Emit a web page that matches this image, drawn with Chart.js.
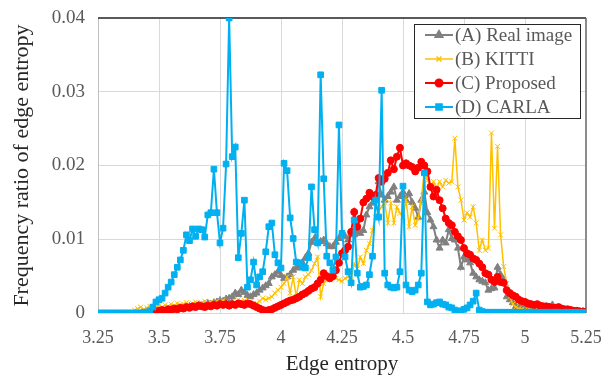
<!DOCTYPE html>
<html>
<head>
<meta charset="utf-8">
<script src="https://cdn.jsdelivr.net/npm/chart.js@4.4.1/dist/chart.umd.min.js"></script>
<style>
  html, body { margin: 0; padding: 0; background: #fff; }
  #wrap { width: 601px; height: 379px; }
</style>
</head>
<body>
<div id="wrap"><canvas id="entropyChart" width="601" height="379"></canvas></div>
<script>
// histogram bins: 3.25 .. 5.25, one bin every 0.0125
const binStart = 3.25;
const binStep = 0.0125;

const seriesNames = ['(A) Real image', '(B) KITTI', '(C) Proposed', '(D) CARLA'];

const realImage = [
  null,null,null,null,null,null,null,null,
  null,null,null,null,null,null,null,null,
  null,null,null,null,null,null,0.0003,0.0004,
  0.0005,0.0004,0.0006,0.0007,0.0006,0.0008,0.0009,0.0008,
  0.001,0.0011,0.001,0.0012,0.0013,0.0012,0.0014,0.0015,
  0.0017,0.0016,0.0019,0.002,0.0022,0.0027,0.0025,0.0031,
  0.0028,0.0024,0.0022,0.0025,0.0027,0.0031,0.0034,0.0037,
  0.004,0.0049,0.0052,0.0056,0.0051,0.0047,0.0049,0.0052,
  0.0058,0.0061,0.0064,0.0068,0.0075,0.0081,0.0096,0.0101,
  0.0095,0.0097,0.0099,0.0094,0.009,0.009,0.0096,0.0101,
  0.0108,0.0104,0.0099,0.0108,0.0106,0.011,0.0108,0.0112,
  0.0133,0.0144,0.0149,0.0155,0.0178,0.016,0.0153,0.0158,
  0.0164,0.0171,0.0153,0.0158,0.0164,0.0153,0.0162,0.015,
  0.0142,0.013,0.0153,0.0164,0.0136,0.0126,0.0117,0.0099,
  0.0088,0.0099,0.0095,0.0113,0.0101,0.0099,0.0088,0.0062,
  0.0076,0.0072,0.0068,0.0054,0.0049,0.0045,0.0043,0.0041,
  0.0031,0.0033,0.0034,0.0062,0.0052,0.0045,0.0022,0.0018,
  0.0014,0.0009,0.0008,0.0007,0.0007,0.0006,0.0006,0.0005,
  0.0005,0.0004,0.0005,0.0006,0.0008,0.0011,0.0006,0.0004,
  0.0004,0.0003,0.0003,0.0003,0.0002,0.0002,0.0002,0.0002,
  0.0001
];

const kitti = [
  null,null,null,null,null,null,null,null,
  null,null,null,null,0.0004,0.0006,0.0008,0.0005,
  0.0007,0.0009,0.0006,0.0008,0.001,0.0008,0.0011,0.0009,
  0.0012,0.001,0.0013,0.0011,0.0012,0.0014,0.0011,0.0013,
  0.0015,0.0012,0.0014,0.0016,0.0013,0.0015,0.0012,0.0016,
  0.0014,0.0017,0.0015,0.0013,0.0016,0.0014,0.0018,0.0015,
  0.0017,0.0014,0.0016,0.0013,0.0013,0.0016,0.002,0.0018,
  0.002,0.0022,0.0027,0.0031,0.0035,0.004,0.0049,0.0027,
  0.0049,0.0022,0.0045,0.004,0.0049,0.0052,0.0058,0.0067,
  0.0076,0.0022,0.004,0.0045,0.0045,0.0049,0.0047,0.0045,
  0.0043,0.0047,0.0049,0.0045,0.0067,0.006,0.0076,0.0067,
  0.0085,0.0094,0.0112,0.013,0.0138,0.0144,0.015,0.0122,
  0.0149,0.0122,0.0144,0.0135,0.013,0.0153,0.0117,0.0144,
  0.0119,0.0128,0.0153,0.0194,0.018,0.0171,0.0178,0.017,
  0.0178,0.0171,0.018,0.0176,0.0178,0.0237,0.0171,0.0153,
  0.0126,0.0136,0.013,0.0144,0.0122,0.0085,0.0099,0.0085,
  0.0088,0.0244,0.0115,0.0226,0.0106,0.0063,0.004,0.0022,
  0.0012,0.0008,0.0006,0.0005,0.0004,0.0004,0.0003,0.0003,
  0.0002,0.0002,0.0002,0.0001,0.0001,0.0001,0.0001
];

const proposed = [
  null,null,null,null,null,null,null,null,
  null,null,null,null,null,null,null,null,
  null,null,null,0.0002,0.0003,0.0004,0.0003,0.0005,
  0.0004,0.0006,0.0005,0.0007,0.0006,0.0008,0.0007,0.0009,
  0.0008,0.001,0.0009,0.0008,0.001,0.0009,0.0011,0.001,
  0.0012,0.0011,0.0012,0.001,0.0012,0.0011,0.0013,0.0012,
  0.0011,0.0013,0.0012,0.001,0.0008,0.0006,0.0004,0.0003,
  0.0004,0.0005,0.0007,0.0009,0.0011,0.0013,0.0015,0.0017,
  0.0018,0.002,0.0022,0.0025,0.0027,0.003,0.0033,0.0035,
  0.004,0.0045,0.0054,0.005,0.0047,0.005,0.0058,0.0068,
  0.0081,0.0085,0.009,0.011,0.0137,0.0117,0.0128,0.015,
  0.0155,0.0163,0.0158,0.016,0.0183,0.0178,0.0182,0.019,
  0.0207,0.0195,0.0212,0.0224,0.02,0.0203,0.02,0.0198,
  0.0192,0.0197,0.0205,0.02,0.0192,0.0171,0.0158,0.0167,
  0.0153,0.0142,0.0128,0.0122,0.0119,0.011,0.0104,0.0099,
  0.0088,0.0081,0.0079,0.0074,0.0072,0.0067,0.0062,0.0054,
  0.0052,0.0045,0.0042,0.0049,0.0042,0.0041,0.0031,0.0027,
  0.0024,0.0022,0.0018,0.0016,0.0015,0.0013,0.0012,0.0011,
  0.0012,0.001,0.0009,0.0009,0.0008,0.0007,0.0007,0.0008,
  0.0006,0.0005,0.0005,0.0004,0.0003,0.0003,0.0002,0.0002,
  0.0002
];

const carla = [
  0,0,0,0,0,0,0,0,
  0,0,0,0,0,0,0,0.0001,
  0.0001,0.0003,0.0008,0.0015,0.0018,0.002,0.0027,0.0035,
  0.0042,0.0052,0.0062,0.0072,0.0085,0.0106,0.0098,0.0114,
  0.0104,0.0114,0.0113,0.0103,0.0133,0.0136,0.0195,0.0136,
  0.0095,0.0115,0.0202,0.040,0.0212,0.0225,0.0075,0.0108,
  0.0153,0.0035,0.0045,0.0069,0.0038,0.0049,0.0056,0.0083,
  0.0117,0.0122,0.0079,0.0068,0.0061,0.0203,0.0193,0.0129,
  0.0101,0.0069,0.0068,0.0062,0.0061,0.0075,0.0171,0.0113,
  0.0095,0.0323,0.0182,0.0077,0.0068,0.0058,0.0076,0.0255,
  0.0108,0.0076,0.0056,0.0041,0.0126,0.0054,0.0035,0.0036,
  0.0038,0.0052,0.0077,0.0153,0.013,0.0302,0.0054,0.0038,
  0.0035,0.0034,0.0035,0.0056,0.0172,0.0038,0.0031,0.0029,
  0.0031,0.0038,0.0054,0.019,0.0015,0.0011,0.0012,0.0014,
  0.0015,0.0012,0.0011,0.0008,0.0007,0.0004,0.0002,0.0003,
  0.0005,0.0007,0.0011,0.0016,0.0027,0.0004,0.0002,0.0001,
  0.0001,0.0001,0.0001,0.0001,0.0001,0.0001,0.0001,0.0001,
  0.0001,0.0001,0,0.0001,0.0001,0,0.0001,0.0001,
  0.0001,0,0.0001,0.0001,0,0.0001,0.0001,0.0001,
  0,0.0001,0.0001,0,0.0001,0.0001,0,0.0001,
  0
];

function toPoints(vals) {
  return vals.map((v, i) => ({ x: binStart + i * binStep, y: v }));
}

const serif = '"Liberation Serif", "Times New Roman", serif';

// legend sits inside the plot, top right, like the original figure
const boxedLegend = {
  id: 'boxedLegend',
  afterDraw(chart) {
    const ctx = chart.ctx;
    const area = chart.chartArea;
    const w = 166, h = 94;
    const x = area.right - 172, y = area.top + 6;
    ctx.save();
    ctx.fillStyle = '#fff';
    ctx.fillRect(x, y, w, h);
    ctx.strokeStyle = '#262626';
    ctx.lineWidth = 1;
    ctx.strokeRect(x + 0.5, y + 0.5, w, h);
    chart.data.datasets.forEach((ds, i) => {
      const cy = y + 11 + i * 24;
      ctx.strokeStyle = ds.borderColor;
      ctx.fillStyle = ds.borderColor;
      ctx.lineWidth = ds.borderWidth;
      ctx.beginPath();
      ctx.moveTo(x + 11, cy);
      ctx.lineTo(x + 39, cy);
      ctx.stroke();
      Chart.helpers.drawPoint(ctx, {
        pointStyle: ds.pointStyle,
        radius: ds.pointRadius,
        borderWidth: ds.pointBorderWidth,
        rotation: 0
      }, x + 25, cy);
      ctx.fillStyle = '#595959';
      ctx.font = '19px ' + serif;
      ctx.textBaseline = 'middle';
      ctx.fillText(seriesNames[i], x + 41, cy + 1);
    });
    ctx.restore();
  }
};

const plotFrame = {
  id: 'plotFrame',
  beforeDatasetsDraw(chart) {
    const ctx = chart.ctx;
    const a = chart.chartArea;
    ctx.save();
    ctx.lineWidth = 1;
    ctx.strokeStyle = '#bfbfbf';
    ctx.beginPath();
    ctx.moveTo(a.left + 0.5, a.top);
    ctx.lineTo(a.left + 0.5, a.bottom);
    ctx.stroke();
    ctx.strokeStyle = '#8c8c8c';
    ctx.lineWidth = 2;
    ctx.beginPath();
    ctx.moveTo(a.right, a.top);
    ctx.lineTo(a.right, a.bottom);
    ctx.stroke();
    ctx.strokeStyle = '#595959';
    ctx.beginPath();
    ctx.moveTo(a.left, a.top);
    ctx.lineTo(a.right, a.top);
    ctx.stroke();
    ctx.restore();
  }
};

const ctx = document.getElementById('entropyChart').getContext('2d');
new Chart(ctx, {
  type: 'line',
  data: {
    datasets: [
      {
        label: seriesNames[0], data: toPoints(realImage), order: 4,
        borderColor: '#808080', backgroundColor: '#808080', borderWidth: 2,
        pointStyle: 'triangle', pointRadius: 4, pointBorderWidth: 1
      },
      {
        label: seriesNames[1], data: toPoints(kitti), order: 3,
        borderColor: '#ffc000', backgroundColor: '#ffc000', borderWidth: 1.5,
        pointStyle: 'crossRot', pointRadius: 3.5, pointBorderWidth: 1
      },
      {
        label: seriesNames[2], data: toPoints(proposed), order: 2,
        borderColor: '#ff0000', backgroundColor: '#ff0000', borderWidth: 2,
        pointStyle: 'circle', pointRadius: 3.5, pointBorderWidth: 1
      },
      {
        label: seriesNames[3], data: toPoints(carla), order: 1,
        borderColor: '#00b0f0', backgroundColor: '#00b0f0', borderWidth: 2,
        pointStyle: 'rect', pointRadius: 4, pointBorderWidth: 1
      }
    ]
  },
  options: {
    responsive: false,
    animation: false,
    layout: { padding: { top: 18, right: 0, left: 9, bottom: 0 } },
    plugins: {
      legend: { display: false },
      tooltip: { enabled: false }
    },
    scales: {
      x: {
        type: 'linear',
        min: 3.25,
        max: 5.25,
        grid: { color: '#d9d9d9', drawTicks: false },
        border: { display: false },
        ticks: {
          stepSize: 0.25,
          padding: 14,
          color: '#595959',
          font: { family: serif, size: 18 },
          callback: v => String(Number(v.toFixed(2)))
        },
        title: {
          display: true,
          text: 'Edge entropy',
          color: '#262626',
          font: { family: serif, size: 21 },
          padding: { top: 0, bottom: 2 }
        },
        afterFit(scale) {
          scale.height = 66;
          scale.paddingLeft = 0;
          scale.paddingRight = 15;
        }
      },
      y: {
        min: 0,
        max: 0.04,
        grid: { color: '#d9d9d9', drawTicks: false },
        border: { display: false },
        ticks: {
          stepSize: 0.01,
          padding: 13,
          color: '#595959',
          font: { family: serif, size: 19 },
          callback: v => (v === 0 ? '0' : v.toFixed(2))
        },
        title: {
          display: true,
          text: 'Frequency ratio of edge entropy',
          color: '#262626',
          font: { family: serif, size: 22 },
          padding: { top: 0, bottom: 0 }
        },
        afterFit(scale) {
          scale.width = 89;
          scale.paddingTop = 0;
          scale.paddingBottom = 0;
        }
      }
    }
  },
  plugins: [plotFrame, boxedLegend]
});
</script>
</body>
</html>
